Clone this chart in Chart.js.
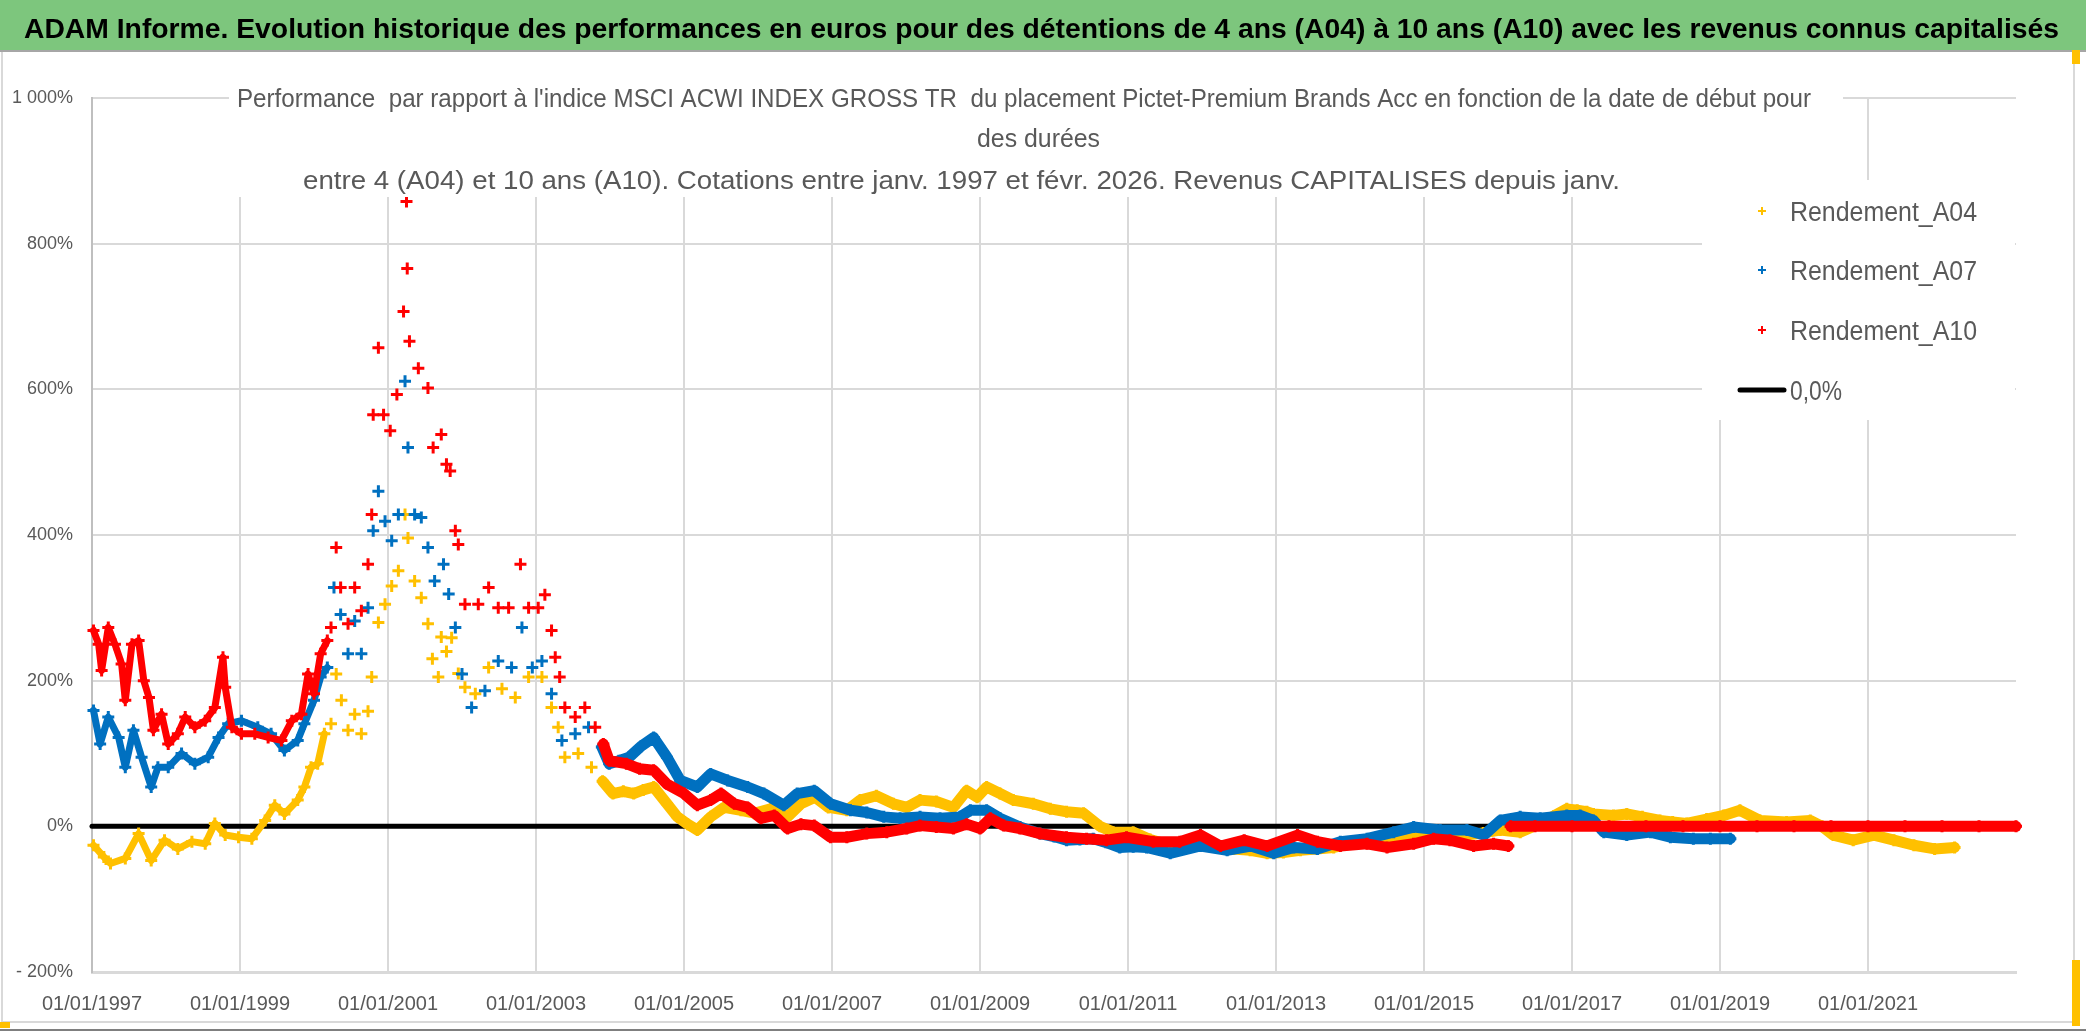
<!DOCTYPE html>
<html>
<head>
<meta charset="utf-8">
<script src="https://cdn.jsdelivr.net/npm/chart.js@4.4.1/dist/chart.umd.min.js"></script>
<style>
  html, body { margin: 0; padding: 0; background: #ffffff; }
  canvas { display: block; }
</style>
</head>
<body>
<canvas id="chart" width="2086" height="1031"></canvas>
<script>
// ---- data (x = start date as decimal year, y = %) ----
const a04Dates = [1997.02, 1997.16, 1997.25, 1997.45, 1997.63, 1997.8, 1997.98, 1998.16, 1998.35, 1998.53, 1998.66, 1998.8, 1998.98,
  1999.16, 1999.34, 1999.47, 1999.6, 1999.78, 1999.87, 1999.96, 2000.05, 2000.14, 2000.23, 2000.3, 2000.37, 2000.46, 2000.55,
  2000.64, 2000.73, 2000.78, 2000.87, 2000.96, 2001.05, 2001.14, 2001.23, 2001.27, 2001.36, 2001.45, 2001.54, 2001.6, 2001.68,
  2001.72, 2001.79, 2001.86, 2001.95, 2002.04, 2002.18, 2002.36, 2002.54, 2002.72, 2002.9, 2003.08, 2003.21, 2003.3, 2003.39,
  2003.57, 2003.75, 2003.9, 2004.04, 2004.18, 2004.32, 2004.45, 2004.59, 2004.77, 2004.91, 2005.05, 2005.18, 2005.36, 2005.54,
  2005.77, 2005.95, 2006.17, 2006.4, 2006.58, 2006.77, 2006.95, 2007.2, 2007.38, 2007.6, 2007.83, 2008.01, 2008.19, 2008.41,
  2008.64, 2008.82, 2008.96, 2009.09, 2009.27, 2009.45, 2009.72, 2009.95, 2010.17, 2010.4, 2010.62, 2010.8, 2011.07, 2011.3,
  2011.5, 2011.75, 2011.98, 2012.2, 2012.43, 2012.65, 2012.88, 2013.1, 2013.33, 2013.55, 2013.78, 2014.0, 2014.23, 2014.45,
  2014.68, 2014.9, 2015.13, 2015.35, 2015.58, 2015.8, 2016.03, 2016.3, 2016.57, 2016.75, 2016.93, 2017.07, 2017.2, 2017.29,
  2017.56, 2017.74, 2017.95, 2018.19, 2018.36, 2018.55, 2018.82, 2019.05, 2019.27, 2019.54, 2019.9, 2020.22, 2020.38, 2020.53,
  2020.8, 2021.08, 2021.35, 2021.62, 2021.9, 2022.17];
const a04Values = [-26, -42, -51, -44, -10, -47, -19, -31, -21, -24, 4, -12, -15,
  -17, 8, 29, 17, 36, 54, 81, 86, 127, 141, 209, 173, 132, 154,
  127, 158, 205, 280, 305, 330, 351, 428, 396, 337, 314, 278, 230, 205,
  260, 240, 259, 210, 191, 182, 218, 189, 177, 205, 205, 163, 136, 95,
  100, 81, 62, 45, 48, 45, 50, 54, 31, 13, 3, -5, 13, 26,
  22, 18, 24, 13, 31, 40, 26, 22, 36, 42, 31, 26, 36, 34,
  26, 49, 40, 54, 45, 36, 31, 24, 20, 18, 0, -8, -8, -18,
  -24, -22, -24, -28, -31, -33, -37, -36, -33, -31, -29, -24, -19, -17,
  -15, -13, -12, -11, -12, -9, -5, -8, 4, 14, 24, 22, 20, 17,
  15, 17, 13, 8, 6, 4, 10, 15, 22, 8, 6, 8, 0, -12,
  -19, -12, -19, -26, -31, -29];

const a07Dates = [1997.02, 1997.11, 1997.22, 1997.36, 1997.45, 1997.56, 1997.67, 1997.8, 1997.89, 1998.03, 1998.21, 1998.39, 1998.57,
  1998.71, 1998.84, 1999.02, 1999.24, 1999.42, 1999.6, 1999.78, 1999.87, 2000.0, 2000.09, 2000.18, 2000.27, 2000.36, 2000.46,
  2000.55, 2000.64, 2000.73, 2000.8, 2000.87, 2000.96, 2001.05, 2001.14, 2001.23, 2001.27, 2001.36, 2001.45, 2001.54, 2001.63,
  2001.75, 2001.82, 2001.91, 2002.0, 2002.13, 2002.31, 2002.49, 2002.67, 2002.81, 2002.95, 2003.08, 2003.21, 2003.35, 2003.53,
  2003.71, 2003.89, 2003.99, 2004.12, 2004.26, 2004.42, 2004.59, 2004.77, 2004.95, 2005.18, 2005.36, 2005.59, 2005.86, 2006.08,
  2006.35, 2006.53, 2006.76, 2006.98, 2007.25, 2007.47, 2007.7, 2007.92, 2008.19, 2008.46, 2008.73, 2008.87, 2009.09, 2009.27,
  2009.54, 2009.81, 2010.0, 2010.17, 2010.35, 2010.53, 2010.7, 2010.89, 2011.07, 2011.25, 2011.57, 2011.98, 2012.34, 2012.66,
  2012.97, 2013.24, 2013.56, 2013.87, 2014.23, 2014.59, 2014.86, 2015.22, 2015.58, 2015.81, 2016.03, 2016.3, 2016.57, 2016.93,
  2017.11, 2017.29, 2017.43, 2017.74, 2018.06, 2018.33, 2018.64, 2018.87, 2019.14];
const a07Values = [159, 113, 150, 122, 81, 132, 95, 54, 81, 81, 100, 86, 95,
  122, 141, 145, 136, 127, 104, 118, 141, 173, 205, 218, 328, 291, 237,
  282, 237, 300, 406, 460, 419, 392, 428, 611, 520, 428, 424, 383, 337,
  360, 319, 273, 209, 163, 186, 227, 218, 273, 218, 227, 182, 118, 127,
  136, 109, 86, 90, 95, 110, 122, 95, 63, 54, 72, 63, 54, 45,
  29, 45, 49, 31, 22, 19, 13, 11, 13, 11, 13, 22, 22, 11,
  -1, -10, -14, -19, -18, -17, -22, -29, -28, -29, -37, -27, -33, -27,
  -37, -29, -31, -21, -17, -8, -1, -5, -5, -12, 8, 13, 11, 15,
  15, 8, -8, -12, -8, -15, -17, -17, -17];

const a10Dates = [1997.02, 1997.09, 1997.13, 1997.22, 1997.31, 1997.4, 1997.45, 1997.54, 1997.63, 1997.7, 1997.77, 1997.83, 1997.94,
  1998.03, 1998.16, 1998.26, 1998.39, 1998.53, 1998.66, 1998.77, 1998.8, 1998.89, 1999.02, 1999.2, 1999.38, 1999.56, 1999.7,
  1999.83, 1999.92, 2000.0, 2000.09, 2000.18, 2000.23, 2000.3, 2000.36, 2000.46, 2000.55, 2000.64, 2000.73, 2000.78, 2000.8,
  2000.87, 2000.94, 2001.03, 2001.12, 2001.21, 2001.25, 2001.26, 2001.29, 2001.41, 2001.54, 2001.61, 2001.72, 2001.79, 2001.84,
  2001.91, 2001.95, 2002.04, 2002.22, 2002.36, 2002.49, 2002.63, 2002.79, 2002.9, 2003.03, 2003.12, 2003.21, 2003.26, 2003.32,
  2003.39, 2003.53, 2003.66, 2003.8, 2003.91, 2003.99, 2004.22, 2004.4, 2004.59, 2004.77, 2005.0, 2005.18, 2005.36, 2005.5,
  2005.68, 2005.86, 2006.04, 2006.22, 2006.4, 2006.58, 2006.76, 2006.98, 2007.2, 2007.47, 2007.74, 2008.01, 2008.19, 2008.41,
  2008.64, 2008.82, 2009.0, 2009.14, 2009.32, 2009.54, 2009.81, 2010.17, 2010.44, 2010.71, 2010.98, 2011.34, 2011.7, 2011.98,
  2012.25, 2012.57, 2012.88, 2013.29, 2013.56, 2013.87, 2014.23, 2014.5, 2014.86, 2015.13, 2015.35, 2015.67, 2015.94, 2016.14];
const a10Values = [269, 250, 214, 273, 250, 223, 173, 250, 255, 200, 177, 132, 154,
  113, 127, 150, 136, 145, 163, 232, 191, 136, 127, 127, 122, 118, 145,
  154, 209, 182, 237, 255, 273, 383, 328, 278, 328, 296, 360, 428, 565,
  657, 565, 543, 593, 707, 858, 766, 666, 629, 602, 520, 538, 497, 488,
  406, 387, 305, 305, 328, 300, 300, 360, 300, 300, 318, 269, 232, 205,
  163, 150, 163, 136, 113, 90, 86, 79, 77, 58, 45, 29, 36, 45,
  31, 26, 11, 15, -3, 3, 1, -15, -15, -10, -8, -3, 1, -1,
  -3, 3, -3, 11, 1, -3, -10, -15, -17, -19, -15, -21, -21, -12,
  -27, -19, -27, -12, -21, -27, -24, -29, -24, -17, -19, -27, -24, -27];
// A10 after early 2016: flat at 0 %
const a10FlatDates = [2016.17, 2016.5, 2017.0, 2017.5, 2018.0, 2018.5, 2019.0, 2019.5, 2020.0, 2020.5, 2021.0, 2021.5, 2022.0, 2022.5, 2023.0];
const a10FlatValues = [0, 0, 0, 0, 0, 0, 0, 0, 0, 0, 0, 0, 0, 0, 0];

const zeroDates = [1997, 2023];
const zeroValues = [0, 0];

const xTickYears = [1997, 1999, 2001, 2003, 2005, 2007, 2009, 2011, 2013, 2015, 2017, 2019, 2021];
const seriesNames = ['Rendement_A04', 'Rendement_A07', 'Rendement_A10', '0,0%'];

const mainTitle = "ADAM Informe. Evolution historique des performances en euros pour des détentions de 4 ans (A04) à 10 ans (A10) avec les revenus connus capitalisés";
const subTitle = [
  "Performance  par rapport à l'indice MSCI ACWI INDEX GROSS TR  du placement Pictet-Premium Brands Acc en fonction de la date de début pour",
  "des durées",
  "entre 4 (A04) et 10 ans (A10). Cotations entre janv. 1997 et févr. 2026. Revenus CAPITALISES depuis janv."
];

// ---- styles ----
const FONT = "'Liberation Sans', Arial, sans-serif";
const YELLOW = '#FFC000', BLUE = '#0070C0', RED = '#FF0000';
const GREY_TXT = '#595959';
// the 2000-2003 bubble is a loose cloud of crosses; elsewhere the daily points make a solid band
const CLOUD_FROM = 2000.1, CLOUD_TO = 2003.85;

function pts(xs, ys) {
  return xs.map((x, i) => ({ x: x, y: ys[i] }));
}

function bandWidth(c) {
  const x = c.p0.parsed.x;
  return x < CLOUD_FROM ? 7 : 11;
}

function scatterSet(label, xs, ys, color, order) {
  return {
    label: label,
    data: pts(xs, ys),
    order: order,
    showLine: true,
    borderColor: color,
    backgroundColor: color,
    borderWidth: 11,
    borderCapStyle: 'round',
    borderJoinStyle: 'round',
    segment: {
      borderColor: (c) => {
        const x = c.p0.parsed.x;
        return (x >= CLOUD_FROM && x < CLOUD_TO) ? 'rgba(0,0,0,0)' : color;
      },
      borderWidth: bandWidth
    },
    pointStyle: 'cross',
    pointRadius: 6,
    pointBorderWidth: 3,
    pointBorderColor: color,
    clip: false
  };
}

// draw text squeezed/stretched to a measured width
function fitText(ctx, text, left, baseline, width, size, weight, color) {
  ctx.save();
  ctx.font = weight + ' ' + size + 'px ' + FONT;
  const w = ctx.measureText(text).width;
  ctx.translate(left, baseline);
  ctx.scale(width / w, 1);
  ctx.textAlign = 'left';
  ctx.textBaseline = 'alphabetic';
  ctx.fillStyle = color;
  ctx.fillText(text, 0, 0);
  ctx.restore();
}

function drawCross(ctx, x, y, r, color) {
  ctx.save();
  ctx.strokeStyle = color;
  ctx.lineWidth = 2;
  ctx.beginPath();
  ctx.moveTo(x - r, y); ctx.lineTo(x + r, y);
  ctx.moveTo(x, y - r); ctx.lineTo(x, y + r);
  ctx.stroke();
  ctx.restore();
}

const frame = {
  id: 'frame',
  beforeDraw(chart) {
    const ctx = chart.ctx;
    ctx.save();
    ctx.fillStyle = '#ffffff';
    ctx.fillRect(0, 0, chart.width, chart.height);
    // green title band
    ctx.fillStyle = '#7DC67D';
    ctx.fillRect(0, 0, chart.width, 50);
    ctx.fillStyle = '#a6a6a6';
    ctx.fillRect(0, 50, chart.width, 2);
    // chart area frame
    ctx.strokeStyle = '#d9d9d9';
    ctx.lineWidth = 2;
    ctx.beginPath();
    ctx.moveTo(2, 52); ctx.lineTo(2, 1022); ctx.lineTo(2074, 1022); ctx.lineTo(2074, 52);
    ctx.stroke();
    ctx.fillStyle = '#7f7f7f';
    ctx.fillRect(0, 1029, chart.width, 2);
    ctx.fillStyle = '#FFC000';
    ctx.fillRect(0, 1022, 10, 6);
    ctx.fillRect(2072, 960, 8, 66);
    ctx.fillRect(2072, 50, 8, 14);
    ctx.restore();
    fitText(ctx, mainTitle, 24, 38, 2035, 28, 'bold', '#000000');
  },
  afterDatasetsDraw(chart) {
    const ctx = chart.ctx;
    ctx.save();
    ctx.fillStyle = '#ffffff';
    ctx.fillRect(229, 56, 1614, 141);     // title box over the plot
    ctx.fillRect(1702, 180, 313, 240);    // legend box
    ctx.restore();

    fitText(ctx, subTitle[0], 237, 107, 1574, 25, 'normal', GREY_TXT);
    fitText(ctx, subTitle[1], 977, 147, 123, 25, 'normal', GREY_TXT);
    fitText(ctx, subTitle[2], 303, 189, 1317, 25, 'normal', GREY_TXT);

    // legend
    const colors = [YELLOW, BLUE, RED];
    const rows = [211, 270, 330];
    for (let i = 0; i < 3; i++) {
      drawCross(ctx, 1762, rows[i], 4, colors[i]);
      fitText(ctx, seriesNames[i], 1790, rows[i] + 10, 187, 27, 'normal', GREY_TXT);
    }
    ctx.save();
    ctx.strokeStyle = '#000000';
    ctx.lineWidth = 5;
    ctx.lineCap = 'round';
    ctx.beginPath();
    ctx.moveTo(1740, 390); ctx.lineTo(1784, 390);
    ctx.stroke();
    ctx.restore();
    fitText(ctx, seriesNames[3], 1790, 400, 52, 27, 'normal', GREY_TXT);
  }
};

function pct(v) {
  const s = String(Math.abs(v)).replace(/\B(?=(\d{3})+(?!\d))/g, ' ');
  return (v < 0 ? '- ' : '') + s + '%';
}

new Chart(document.getElementById('chart'), {
  type: 'scatter',
  data: {
    datasets: [
      scatterSet(seriesNames[0], a04Dates, a04Values, YELLOW, 3),
      scatterSet(seriesNames[1], a07Dates, a07Values, BLUE, 2),
      scatterSet(seriesNames[2], a10Dates, a10Values, RED, 1),
      Object.assign(scatterSet(seriesNames[2], a10FlatDates, a10FlatValues, RED, 1), {
        segment: {}
      }),
      {
        label: seriesNames[3],
        type: 'line',
        data: pts(zeroDates, zeroValues),
        order: 4,
        borderColor: '#000000',
        borderWidth: 5,
        borderCapStyle: 'round',
        pointRadius: 0,
        clip: false
      }
    ]
  },
  options: {
    responsive: false,
    devicePixelRatio: 1,
    animation: false,
    events: [],
    layout: { padding: { left: 0, top: 98, right: 70, bottom: 9 } },
    plugins: {
      legend: { display: false },
      title: { display: false },
      tooltip: { enabled: false }
    },
    scales: {
      x: {
        type: 'linear',
        min: 1997,
        max: 2023,
        afterBuildTicks: (s) => { s.ticks = xTickYears.map((v) => ({ value: v })); },
        afterFit: (s) => { s.height = 50; },
        grid: { color: '#d9d9d9', lineWidth: 2, drawTicks: false },
        border: { color: '#d9d9d9', width: 3 },
        ticks: {
          padding: 20,
          color: GREY_TXT,
          font: { family: FONT, size: 20 },
          maxRotation: 0,
          autoSkip: false,
          callback: (v) => '01/01/' + v
        }
      },
      y: {
        min: -200,
        max: 1000,
        afterFit: (s) => { s.width = 92; },
        grid: { color: '#d9d9d9', lineWidth: 2, drawTicks: false },
        border: { color: '#bfbfbf', width: 2 },
        ticks: {
          stepSize: 200,
          padding: 19,
          color: GREY_TXT,
          font: { family: FONT, size: 18 },
          callback: (v) => pct(v)
        }
      }
    }
  },
  plugins: [frame]
});
</script>
</body>
</html>
